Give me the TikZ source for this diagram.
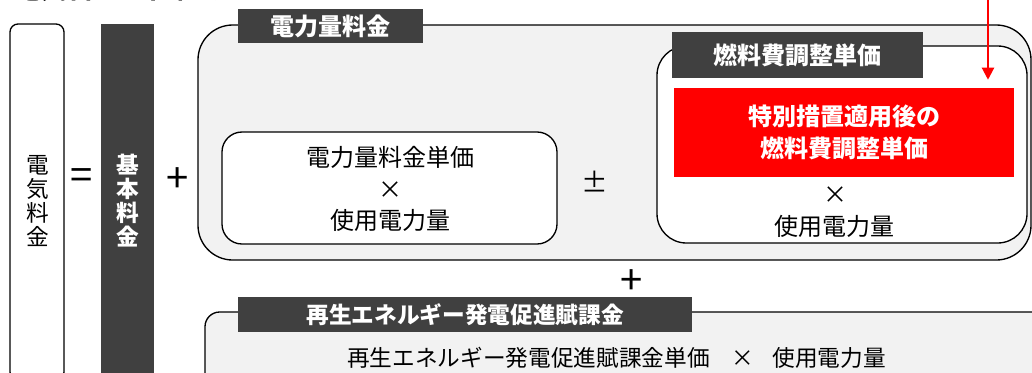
\documentclass[tikz,border=0pt]{standalone}
\usepackage{fontspec}
\setmainfont{Noto Sans CJK JP}
\usetikzlibrary{arrows.meta}
\definecolor{tabgray}{HTML}{404040}
\definecolor{panel}{HTML}{F2F2F2}
\definecolor{hired}{HTML}{FF0000}
\newcommand{\jsz}[2]{\fontsize{#1}{#2}\selectfont}
\tikzset{
  box/.style={draw=black, line width=1pt, rectangle, inner sep=0pt},
  tabbox/.style={fill=tabgray, rectangle, inner sep=0pt, text=white, font=\jsz{18pt}{18pt}\bfseries},
  txt/.style={inner sep=0pt, align=center, text=black, font=\jsz{18pt}{23.5pt}},
  op/.style={inner sep=0pt, text=black, font=\jsz{30pt}{30pt}},
}
\begin{document}
\begin{tikzpicture}[x=0.75pt, y=-0.75pt]
\useasboundingbox (0,0) rectangle (1032,372);
% cut title
\node[inner sep=0pt, anchor=base west, font=\jsz{20pt}{20pt}\bfseries] (title) at (14,-1.5) {電気料金の仕組み};
% left box
\node[box, rounded corners=6pt, fill=white, minimum width=40.5pt, minimum height=267pt] (total) at (37,202) {};
\node[txt, font=\jsz{17pt}{18pt}] (totaltxt) at (38,201) {電\\気\\料\\金};
\node[op] (eq) at (82,179) {=};
% basic fee bar
\node[fill=tabgray, rectangle, inner sep=0pt, minimum width=39.75pt, minimum height=267pt] (kihon) at (127.5,202) {};
\node[txt, text=white, font=\jsz{17pt}{18pt}\bfseries] (kihontxt) at (127.5,201) {基\\本\\料\\金};
\node[op] (plus1) at (178,180) {+};
% energy charge panel
\node[box, rounded corners=26pt, fill=panel, minimum width=624.75pt, minimum height=176.25pt] (outer) at (614.5,142.5) {};
\node[tabbox, minimum width=138.75pt, minimum height=25.5pt] (tab1) at (330.5,26) {電力量料金};
\node[box, rounded corners=15pt, fill=white, minimum width=251.25pt, minimum height=84pt] (inL) at (389.5,188) {};
\node[txt] (inLtxt) at (390,189) {電力量料金単価\\×\\使用電力量};
\node[txt, font=\jsz{20pt}{20pt}] (pm) at (595,182) {±};
% fuel adjustment
\node[box, rounded corners=22pt, fill=white, minimum width=277.5pt, minimum height=147.75pt] (fuel) at (842,144.5) {};
\node[tabbox, minimum width=188.25pt, minimum height=34.5pt] (fueltab) at (797.5,55) {燃料費調整単価};
\node[fill=hired, rectangle, inner sep=0pt, minimum width=255pt, minimum height=66.75pt, text=white, align=center, font=\jsz{18pt}{23.5pt}\bfseries] (red) at (844,132.5) {特別措置適用後の\\燃料費調整単価};
\node[txt] (fueltimes) at (835,195) {×};
\node[txt] (fuelkwh) at (834,226) {使用電力量};
% red arrow
\coordinate (arrtop) at (988,-10);
\draw[hired, line width=1.6pt, -{Triangle[length=9pt, width=9pt]}, shorten >=6pt] (arrtop) -- (arrtop |- red.north);
% plus
\node[op] (plus2) at (632,282) {+};
% renewable levy
\node[box, rounded corners=11pt, fill=panel, minimum width=633.75pt, minimum height=66pt] (levy) at (627.5,356) {};
\node[tabbox, font=\jsz{17pt}{17pt}\bfseries, minimum width=340.5pt, minimum height=26.25pt] (levytab) at (465,314.5) {再生エネルギー発電促進賦課金};
\node[txt, font=\jsz{17pt}{17pt}, anchor=west] (levytxt) at (347,358) {再生エネルギー発電促進賦課金単価\hspace{16pt}×\hspace{14pt}使用電力量};
\end{tikzpicture}
\end{document}
